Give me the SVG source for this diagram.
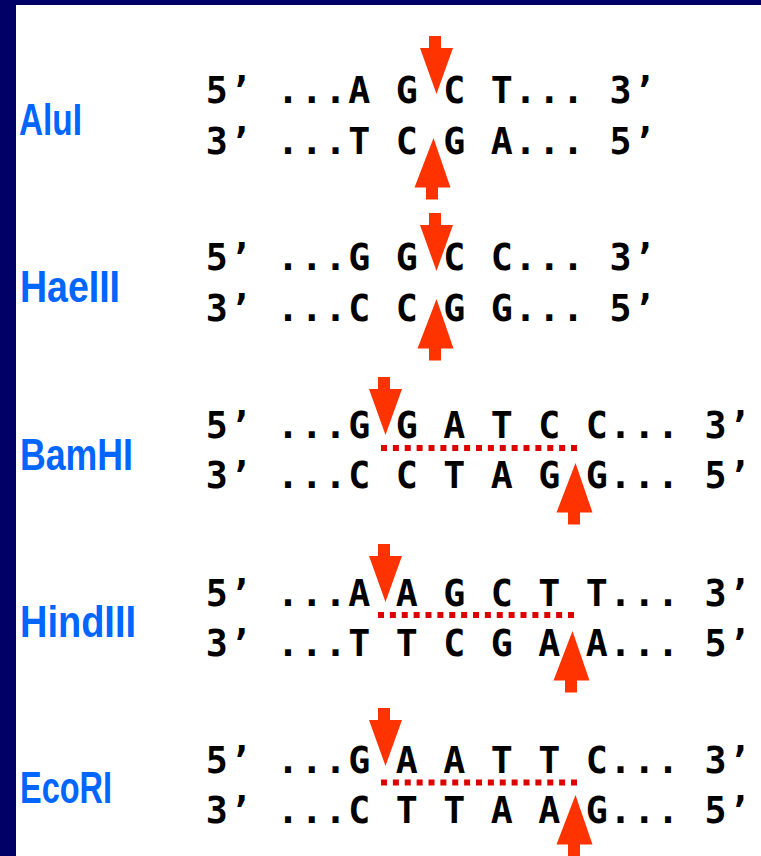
<svg xmlns="http://www.w3.org/2000/svg" xmlns:xlink="http://www.w3.org/1999/xlink" width="761" height="856" viewBox="0 0 761 856">
<style>
.seq{font-family:"DejaVu Sans Mono","Liberation Mono",monospace;font-weight:bold;font-size:36.6px;letter-spacing:1.73px;fill:#000}
.lab{font-family:"Liberation Sans",Arial,sans-serif;font-weight:bold;font-size:44px;fill:#0066ff}
.arrow{fill:#ff3300}
.dots{stroke:#dd0000;stroke-width:6;stroke-dasharray:6 5.875;fill:none}
</style>
<defs>
<path id="down" d="M0,0 H12 V12 H24 L7.5,58 L-9,12 H0 Z"/>
<path id="up" d="M7.5,0 L24.5,49.5 H12 V61.5 H0 V49.5 H-11.5 Z"/>
</defs>
<rect x="0" y="0" width="761" height="856" fill="#ffffff"/>
<rect x="0" y="0" width="761" height="5" fill="#000066"/>
<rect x="0" y="0" width="16" height="856" fill="#000066"/>

<g id="alui">
<text class="lab" x="19" y="135" textLength="63" lengthAdjust="spacingAndGlyphs">AluI</text>
<text class="seq" x="205.8" y="103" xml:space="preserve">5’ ...A G C T... 3’</text>
<text class="seq" x="205.8" y="153.5" xml:space="preserve">3’ ...T C G A... 5’</text>
<use xlink:href="#down" class="arrow" x="429" y="36"/>
<use xlink:href="#up" class="arrow" x="426" y="138"/>
</g>

<g id="haeiii">
<text class="lab" x="20" y="302" textLength="100" lengthAdjust="spacingAndGlyphs">HaeIII</text>
<text class="seq" x="205.8" y="270" xml:space="preserve">5’ ...G G C C... 3’</text>
<text class="seq" x="205.8" y="321" xml:space="preserve">3’ ...C C G G... 5’</text>
<use xlink:href="#down" class="arrow" x="429" y="213"/>
<use xlink:href="#up" class="arrow" x="429" y="299"/>
</g>

<g id="bamhi">
<text class="lab" x="20" y="470" textLength="113" lengthAdjust="spacingAndGlyphs">BamHI</text>
<text class="seq" x="205.8" y="438" xml:space="preserve">5’ ...G G A T C C... 3’</text>
<text class="seq" x="205.8" y="488" xml:space="preserve">3’ ...C C T A G G... 5’</text>
<use xlink:href="#down" class="arrow" x="378" y="377"/>
<use xlink:href="#up" class="arrow" x="568" y="463"/>
</g>

<g id="hindiii">
<text class="lab" x="20" y="637" textLength="116" lengthAdjust="spacingAndGlyphs">HindIII</text>
<text class="seq" x="205.8" y="606" xml:space="preserve">5’ ...A A G C T T... 3’</text>
<text class="seq" x="205.8" y="656" xml:space="preserve">3’ ...T T C G A A... 5’</text>
<use xlink:href="#down" class="arrow" x="378" y="544"/>
<use xlink:href="#up" class="arrow" x="565" y="631"/>
</g>

<g id="ecori">
<text class="lab" x="20" y="803" textLength="92" lengthAdjust="spacingAndGlyphs">EcoRI</text>
<text class="seq" x="205.8" y="773" xml:space="preserve">5’ ...G A A T T C... 3’</text>
<text class="seq" x="205.8" y="823" xml:space="preserve">3’ ...C T T A A G... 5’</text>
<use xlink:href="#down" class="arrow" x="378" y="708"/>
<use xlink:href="#up" class="arrow" x="568" y="795"/>
</g>

<g id="connectors">
<line class="dots" x1="381" y1="448" x2="577" y2="448"/>
<line class="dots" x1="378" y1="615" x2="574" y2="615"/>
<line class="dots" x1="381" y1="782.4" x2="577" y2="782.4"/>
</g>
</svg>
